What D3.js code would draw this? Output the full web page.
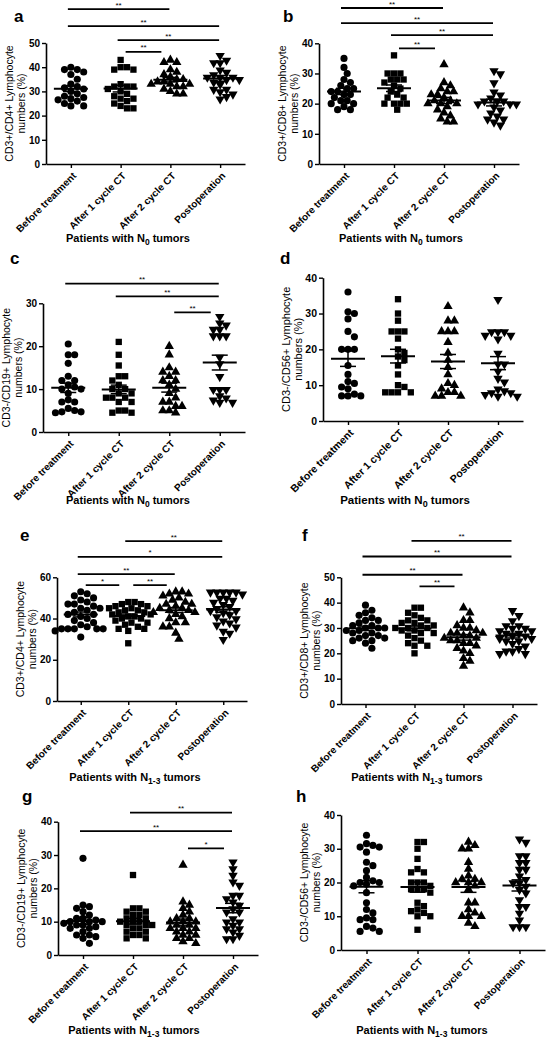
<!DOCTYPE html>
<html><head><meta charset="utf-8">
<script src="https://cdn.jsdelivr.net/npm/d3@7"></script>
<style>
body{margin:0;background:#fff}
svg{display:block}
text{font-family:"Liberation Sans",Arial,sans-serif;fill:#000}
</style>
</head><body>
<svg id="chart" width="547" height="1044"></svg>
<script>
// ---------- categories ----------
const categories = ["Before treatment","After 1 cycle CT","After 2 cycle CT","Postoperation"];

// ---------- panel a: CD3+/CD4+, N0 ----------
const aBefore = [40,39,39,38,37,35,33,32,31.5,31,30,29,28,27.5,27,26.5,26,25,24,24];
const aCycle1 = [43,40,40,39,39,33,32,32,32,31,30,29,28,27,27,26,25,24,23,23];
const aCycle2 = [43,42,42,39,38,37,36,35,35,34,34,33,33,33,32,32,31,30,29,29];
const aPostop = [45,43,42,42,39,38,37,36,36,36,35,35,34,33,31,31,30,29,28,27];
const aTicks = [0,10,20,30,40,50];
const aSig = [[0,2,"**",64],[0,3,"**",57],[1,3,"**",51.2],[1,2,"**",46.3]];

// ---------- panel b: CD3+/CD8+, N0 ----------
const bBefore = [35,32,30,28,27,26,25,25,24,24,23,23,22,21,21,20,20,19,18,18];
const bCycle1 = [36,30,30,30,28,28,28,27,26,25,24,23,22,22,20,20,20,20,18];
const bCycle2 = [33,27,26,25,24,24,23,23,22,21,21,20,20,20,19,18,17,16,15,14,14];
const bPostop = [31,30,27,24,23,22,21,21,21,20,20,20,19,18,17,16,15,15,14,13];
const bTicks = [0,10,20,30,40];
const bSig = [[0,2,"**",51.7],[0,3,"**",46.7],[1,3,"**",42.7],[1,2,"**",38.3]];

// ---------- panel c: CD3-/CD19+, N0 ----------
const cBefore = [20.5,18,18,16,13,12,12,11,10.5,10,10,9,7.5,7,7,5.5,5,4.7,4.7,4.5];
const cCycle1 = [21,18,15.5,13,13,12,11,10,10,9,9,8,8,8,7,7,5,5,4.5,4.5];
const cCycle2 = [20,18,15,14,14,13,12,12,11,10,9,8,7,7,6,6,5,5,4.5];
const cPostop = [27,25.5,25,24,24,22.5,22.5,22.5,17.5,16,13,10,10,10,8.5,8,7.5,7,7];
const cTicks = [0,10,20,30];
const cSig = [[0,3,"**",34.6],[1,3,"**",31.6],[2,3,"**",27.9]];

// ---------- panel d: CD3-/CD56+, N0 ----------
const dBefore = [36,30.5,30,28.5,25,23.5,20,20,20,15.5,13,11,10.5,9.5,9,7.5,7,7,7];
const dCycle1 = [34,30,28,25,25,25,23,20,19,18,17,15.5,13,10,9.5,8,8,8,8];
const dCycle2 = [32,28,28,25,25,25,22,19,17,15,13,10.5,10,9,8,8,7,7,7];
const dPostop = [34,25,25,25,24,24,23,19,16,16,14,12,11,9,8.5,8,8,7.5,7,7];
const dTicks = [0,10,20,30,40];
const dSig = [];

// ---------- panel e: CD3+/CD4+, N1-3 ----------
const eBefore = [53,52,51,50,49,48,47,47,46,45,45,44,43,42,42,41,40,39,38,37,36,35,35,35,35,35,34,31];
const eCycle1 = [48,48,47,47,46,46,45,45,44,44,43,43,42,42,41,41,40,40,39,38,38,37,36,35,35,34,28];
const eCycle2 = [53,53,52,52,51,50,49,48,47,47,46,45,45,44,44,43,43,42,41,40,38,38,36,36,33,30];
const ePostop = [53,53,53,53,53,52,50,50,49,48,47,46,45,44,44,43,42,41,40,39,38,37,36,34,33,30];
const eTicks = [0,20,40,60];
const eSig = [[1,3,"**",77.5],[0,3,"*",69.9],[0,2,"**",61.5],[0,1,"*",56.2],[1,2,"**",56.2]];

// ---------- panel f: CD3+/CD8+, N1-3 ----------
const fBefore = [39,37,36,35,34,33,33,32,31,31,30,30,30,29,29,28,28,27,27,26,26,25,25,24,22];
const fCycle1 = [38,38,36,35,34,33,33,32,32,31,31,30,30,30,29,29,28,28,27,26,25,24,23,23,20];
const fCycle2 = [38,36,33,33,31,30,30,29,28,28,28,27,27,26,26,25,25,24,24,23,22,21,20,18,17,15];
const fPostop = [37,35,33,31,31,30,30,29,29,28,28,27,27,26,26,25,25,24,23,22,21,21,20,20];
const fTicks = [0,10,20,30,40,50];
const fSig = [[1,3,"**",64.4],[0,3,"**",58.2],[0,2,"**",51],[1,2,"**",46.4]];

// ---------- panel g: CD3-/CD19+, N1-3 ----------
const gBefore = [29,15,14.5,14,13,12,11,11,10.5,10,10,10,9.5,9,9,8.5,8,8,7,6,6,5.5,5,3.5];
const gCycle1 = [24,14,14,13,13,12,12,11,11,10,10,10,9,9,9,8,8,7,7,6,6,5,5];
const gCycle2 = [27,16,15,14,13,12,11,11,10,10,10,9,9,8,8,8,7,7,6,6,5,5,4,3.5];
const gPostop = [28,26,24,22,21,18,18,17,16,15,14,13,13,11,10,10,9,8,8,7,6,5,5];
const gTicks = [0,10,20,30,40];
const gSig = [[1,3,"**",42.7],[0,3,"**",37.2],[2,3,"*",32.0]];

// ---------- panel h: CD3-/CD56+, N1-3 ----------
const hBefore = [34,31.5,31,30.5,30.5,29,26,25,23.5,21.5,20.5,20,20,19.5,19,17,14,12,11,9.5,9,9,7,6.5,5.5,5.5];
const hCycle1 = [32,32,30,27,24,23,23,20,20,20,19,18,18,18,17,14,13,12,11.5,11,10,10,6];
const hCycle2 = [32,31,30,30,26,24,22,21,21,20,20,20,19,18,14,14,12,11,10,10,10,8,7];
const hPostop = [33,32,28,28,26,26,24,24,22,21,20,20,19,18,17,15,13,13,11,9,7,7,7];
const hTicks = [0,10,20,30,40];
const hSig = [];

// ---------- layout ----------
const panels = [
  {id:"a", groups:[aBefore,aCycle1,aCycle2,aPostop], ticks:aTicks, sig:aSig, yLabel:"CD3+/CD4+ Lymphocyte", sub:"0",
   x0:46, x1:245, yB:164, yT:43, title:[128,242], lab:[14,22], fs:10},
  {id:"b", groups:[bBefore,bCycle1,bCycle2,bPostop], ticks:bTicks, sig:bSig, yLabel:"CD3+/CD8+ Lymphocyte", sub:"0",
   x0:319, x1:519, yB:164, yT:43.3, title:[401,242], lab:[283,22], fs:10},
  {id:"c", groups:[cBefore,cCycle1,cCycle2,cPostop], ticks:cTicks, sig:cSig, yLabel:"CD3-/CD19+ Lymphocyte", sub:"0",
   x0:43, x1:245, yB:432, yT:303.3, title:[128,504], lab:[10,264], fs:10},
  {id:"d", groups:[dBefore,dCycle1,dCycle2,dPostop], ticks:dTicks, sig:dSig, yLabel:"CD3-/CD56+ Lymphocyte", sub:"0",
   x0:323, x1:523, yB:421, yT:277.7, title:[405,504], lab:[280,264], fs:10.5},
  {id:"e", groups:[eBefore,eCycle1,eCycle2,ePostop], ticks:eTicks, sig:eSig, yLabel:"CD3+/CD4+ Lymphocyte", sub:"1-3",
   x0:57, x1:247, yB:701, yT:577.3, title:[135,781], lab:[20,541], fs:10},
  {id:"f", groups:[fBefore,fCycle1,fCycle2,fPostop], ticks:fTicks, sig:fSig, yLabel:"CD3+/CD8+ Lymphocyte", sub:"1-3",
   x0:341, x1:537, yB:704, yT:577.3, title:[417,781], lab:[302,541], fs:10},
  {id:"g", groups:[gBefore,gCycle1,gCycle2,gPostop], ticks:gTicks, sig:gSig, yLabel:"CD3-/CD19+ Lymphocyte", sub:"1-3",
   x0:58, x1:258, yB:955, yT:821.7, title:[134,1034], lab:[22,802], fs:10},
  {id:"h", groups:[hBefore,hCycle1,hCycle2,hPostop], ticks:hTicks, sig:hSig, yLabel:"CD3-/CD56+ Lymphocyte", sub:"1-3",
   x0:341, x1:545, yB:950, yT:815, title:[422,1034], lab:[296,802], fs:10}
];

const shapes = [d3.symbolCircle, d3.symbolSquare, d3.symbolTriangle, d3.symbolTriangle];
const svg = d3.select("#chart");

function swarm(values, cx, y, dist, step){
  const pts = values.map(v => ({v, y:y(v)})).sort((p,q) => p.y - q.y);
  const placed = [];
  for (const p of pts){
    for (let k = 0; k < 60; k++){
      const off = k === 0 ? 0 : (k % 2 ? 1 : -1) * Math.ceil(k/2) * step;
      const x = cx + off;
      if (placed.every(q => Math.hypot(q.x - x, q.y - p.y) >= dist)){ p.x = x; break; }
    }
    placed.push(p);
  }
  return placed;
}

panels.forEach(P => {
  const g = svg.append("g");
  const ymax = d3.max(P.ticks);
  const y = d3.scaleLinear().domain([0, ymax]).range([P.yB, P.yT]);
  const x = d3.scalePoint().domain(categories).range([P.x0, P.x1]).padding(0.5);

  // y axis
  const ya = g.append("g").attr("transform", `translate(${P.x0},0)`)
    .call(d3.axisLeft(y).tickValues(P.ticks).tickSize(4).tickSizeOuter(0).tickPadding(2).tickFormat(d3.format("d")));
  ya.select(".domain").attr("stroke-width", 1.6);
  ya.selectAll(".tick line").attr("stroke-width", 1.4);
  ya.selectAll("text").attr("font-size", P.fs).attr("font-weight", "bold").attr("font-family", '"Liberation Sans",Arial,sans-serif');

  // x axis
  const xa = g.append("g").attr("transform", `translate(0,${P.yB})`)
    .call(d3.axisBottom(x).tickSize(4).tickSizeOuter(0));
  xa.select(".domain").attr("stroke-width", 1.6);
  xa.selectAll(".tick line").attr("stroke-width", 1.4);
  xa.selectAll("text")
    .attr("font-size", P.fs).attr("font-weight", "bold").attr("font-family", '"Liberation Sans",Arial,sans-serif')
    .attr("text-anchor", "end").attr("y", 0).attr("dy", "0.35em")
    .attr("transform", "translate(3,10) rotate(-45)");

  // y label (two lines)
  const ym = (P.yB + P.yT) / 2;
  g.append("text").attr("transform", `translate(${P.x0 - 33},${ym}) rotate(-90)`)
    .attr("text-anchor", "middle").attr("font-size", P.fs + 0.5).text(P.yLabel);
  g.append("text").attr("transform", `translate(${P.x0 - 21},${ym}) rotate(-90)`)
    .attr("text-anchor", "middle").attr("font-size", P.fs + 0.5).text("numbers (%)");

  // x title
  const t = g.append("text").attr("x", P.title[0]).attr("y", P.title[1])
    .attr("text-anchor", "middle").attr("font-size", P.fs + 1).attr("font-weight", "bold");
  t.append("tspan").text("Patients with N");
  t.append("tspan").attr("dy", 3).attr("font-size", P.fs - 1.5).text(P.sub);
  t.append("tspan").attr("dy", -3).text(" tumors");

  // panel letter
  g.append("text").attr("x", P.lab[0]).attr("y", P.lab[1]).attr("font-size", 17).attr("font-weight", "bold").text(P.id);

  // points
  P.groups.forEach((vals, i) => {
    const cx = x(categories[i]);
    const pts = swarm(vals, cx, y, 6.3, 3.2);
    const sym = d3.symbol().type(shapes[i]).size(i < 2 ? 40 : 38);
    g.selectAll(null).data(pts).enter().append("path")
      .attr("d", sym)
      .attr("transform", d => `translate(${d.x},${i === 3 ? d.y + 0.5 : d.y}) rotate(${i === 3 ? 180 : 0})`)
      .attr("fill", "#000");

    // mean & SEM
    const m = d3.mean(vals);
    const sem = d3.deviation(vals) / Math.sqrt(vals.length);
    g.append("line").attr("x1", cx - 17).attr("x2", cx + 17).attr("y1", y(m)).attr("y2", y(m))
      .attr("stroke", "#000").attr("stroke-width", 2);
    g.append("line").attr("x1", cx).attr("x2", cx).attr("y1", y(m - sem)).attr("y2", y(m + sem))
      .attr("stroke", "#000").attr("stroke-width", 1.5);
    [m - sem, m + sem].forEach(v => g.append("line").attr("x1", cx - 8).attr("x2", cx + 8)
      .attr("y1", y(v)).attr("y2", y(v)).attr("stroke", "#000").attr("stroke-width", 1.5));
  });

  // significance brackets
  P.sig.forEach(([i, j, lab, lv]) => {
    const adj = (j - i) === 1;
    const xs = adj ? x(categories[i]) + 5 : x(categories[i]) - 3;
    const xe = adj ? x(categories[j]) - 9 : x(categories[j]) - 1;
    const yy = y(lv);
    g.append("line").attr("x1", xs).attr("x2", xe).attr("y1", yy).attr("y2", yy)
      .attr("stroke", "#000").attr("stroke-width", 1.8);
    g.append("text").attr("x", (xs + xe) / 2).attr("y", yy - 1.5).attr("text-anchor", "middle")
      .attr("font-size", 8).text(lab);
  });
});
</script>
</body></html>
